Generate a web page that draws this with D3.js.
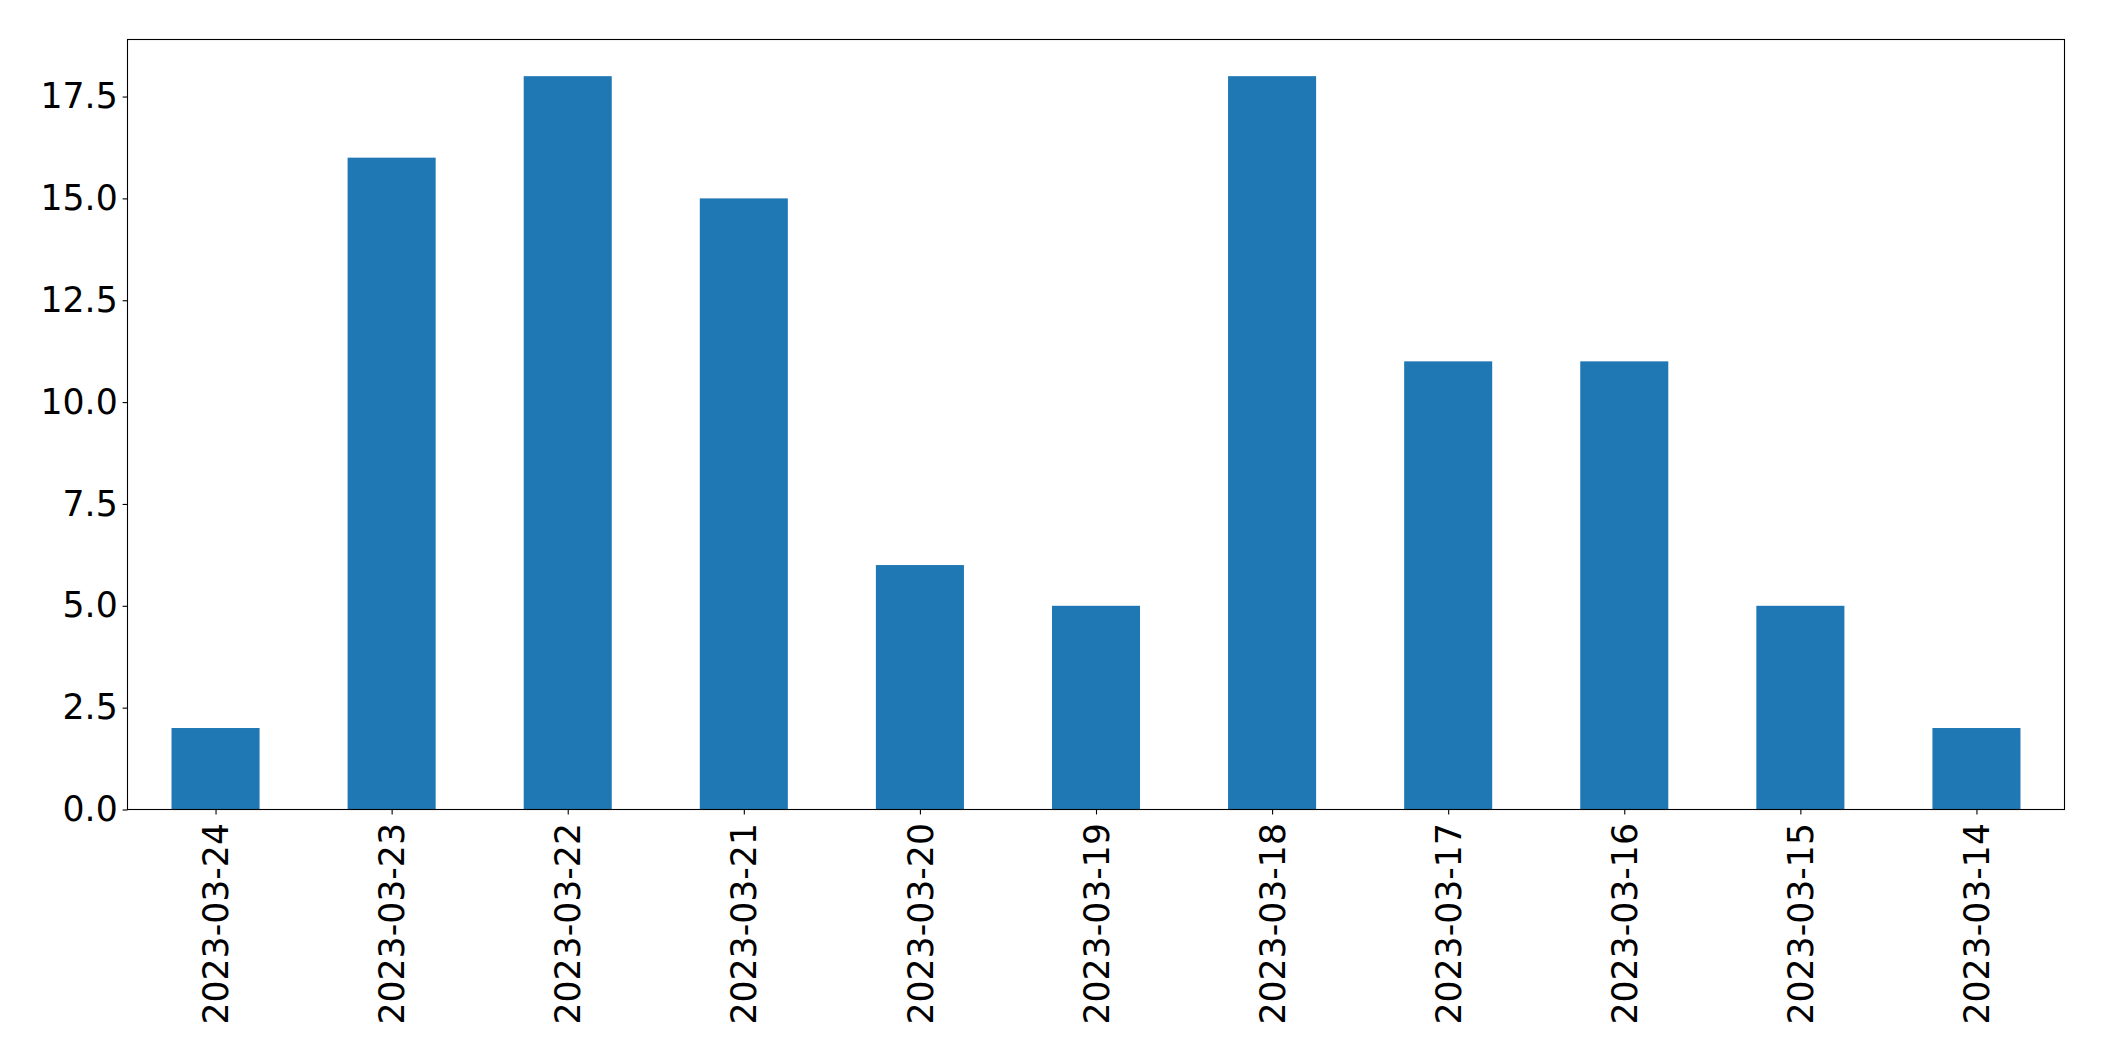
<!DOCTYPE html>
<html><head><meta charset="utf-8">
<script src="https://cdn.jsdelivr.net/npm/d3@7"></script>
<style>body{margin:0;background:#fff}svg{display:block}</style>
</head><body>
<svg id="c" width="2104" height="1061"></svg>
<script>
const categories = ["2023-03-24","2023-03-23","2023-03-22","2023-03-21","2023-03-20","2023-03-19","2023-03-18","2023-03-17","2023-03-16","2023-03-15","2023-03-14"];
const values = [2,16,18,15,6,5,18,11,11,5,2];
const yTicks = [0,2.5,5,7.5,10,12.5,15,17.5];

const L=127.5, R=2064.5, T=39.5, B=809.5;
const svg = d3.select("#c");
const font = "DejaVu Sans";
const fs = 34.7;

const x = d3.scaleLinear().domain([-0.5, categories.length-0.5]).range([L,R]);
const y = d3.scaleLinear().domain([0, d3.max(values)*1.05]).range([B,T]);
const bw = x(0.25)-x(-0.25);

svg.append("g").selectAll("rect").data(values).join("rect")
  .attr("x",(d,i)=>x(i)-bw/2).attr("width",bw)
  .attr("y",d=>y(d)).attr("height",d=>B-y(d))
  .attr("fill","#1f77b4");

const ya = d3.axisLeft(y).tickValues(yTicks).tickFormat(d3.format(".1f")).tickSize(4.9).tickPadding(4.9);
const gy = svg.append("g").attr("transform",`translate(${L},0)`).call(ya);
gy.select(".domain").remove();
gy.selectAll("text").attr("font-family",font).attr("font-size",fs).attr("fill","#000");
gy.selectAll("line").attr("stroke","#000").attr("stroke-width",1.1);

const xa = d3.axisBottom(x).tickValues(d3.range(categories.length)).tickFormat(i=>categories[i]).tickSize(4.9).tickPadding(4.9);
const gx = svg.append("g").attr("transform",`translate(0,${B})`).call(xa);
gx.select(".domain").remove();
gx.selectAll("line").attr("stroke","#000").attr("stroke-width",1.1);
gx.selectAll("text").attr("font-family",font).attr("font-size",fs).attr("fill","#000")
  .attr("transform","rotate(-90)").attr("text-anchor","end").attr("dy","0.35em")
  .attr("x",-13.5).attr("y",0);

svg.append("rect").attr("x",L).attr("y",T).attr("width",R-L).attr("height",B-T)
  .attr("fill","none").attr("stroke","#000").attr("stroke-width",1.1);
</script>
</body></html>
